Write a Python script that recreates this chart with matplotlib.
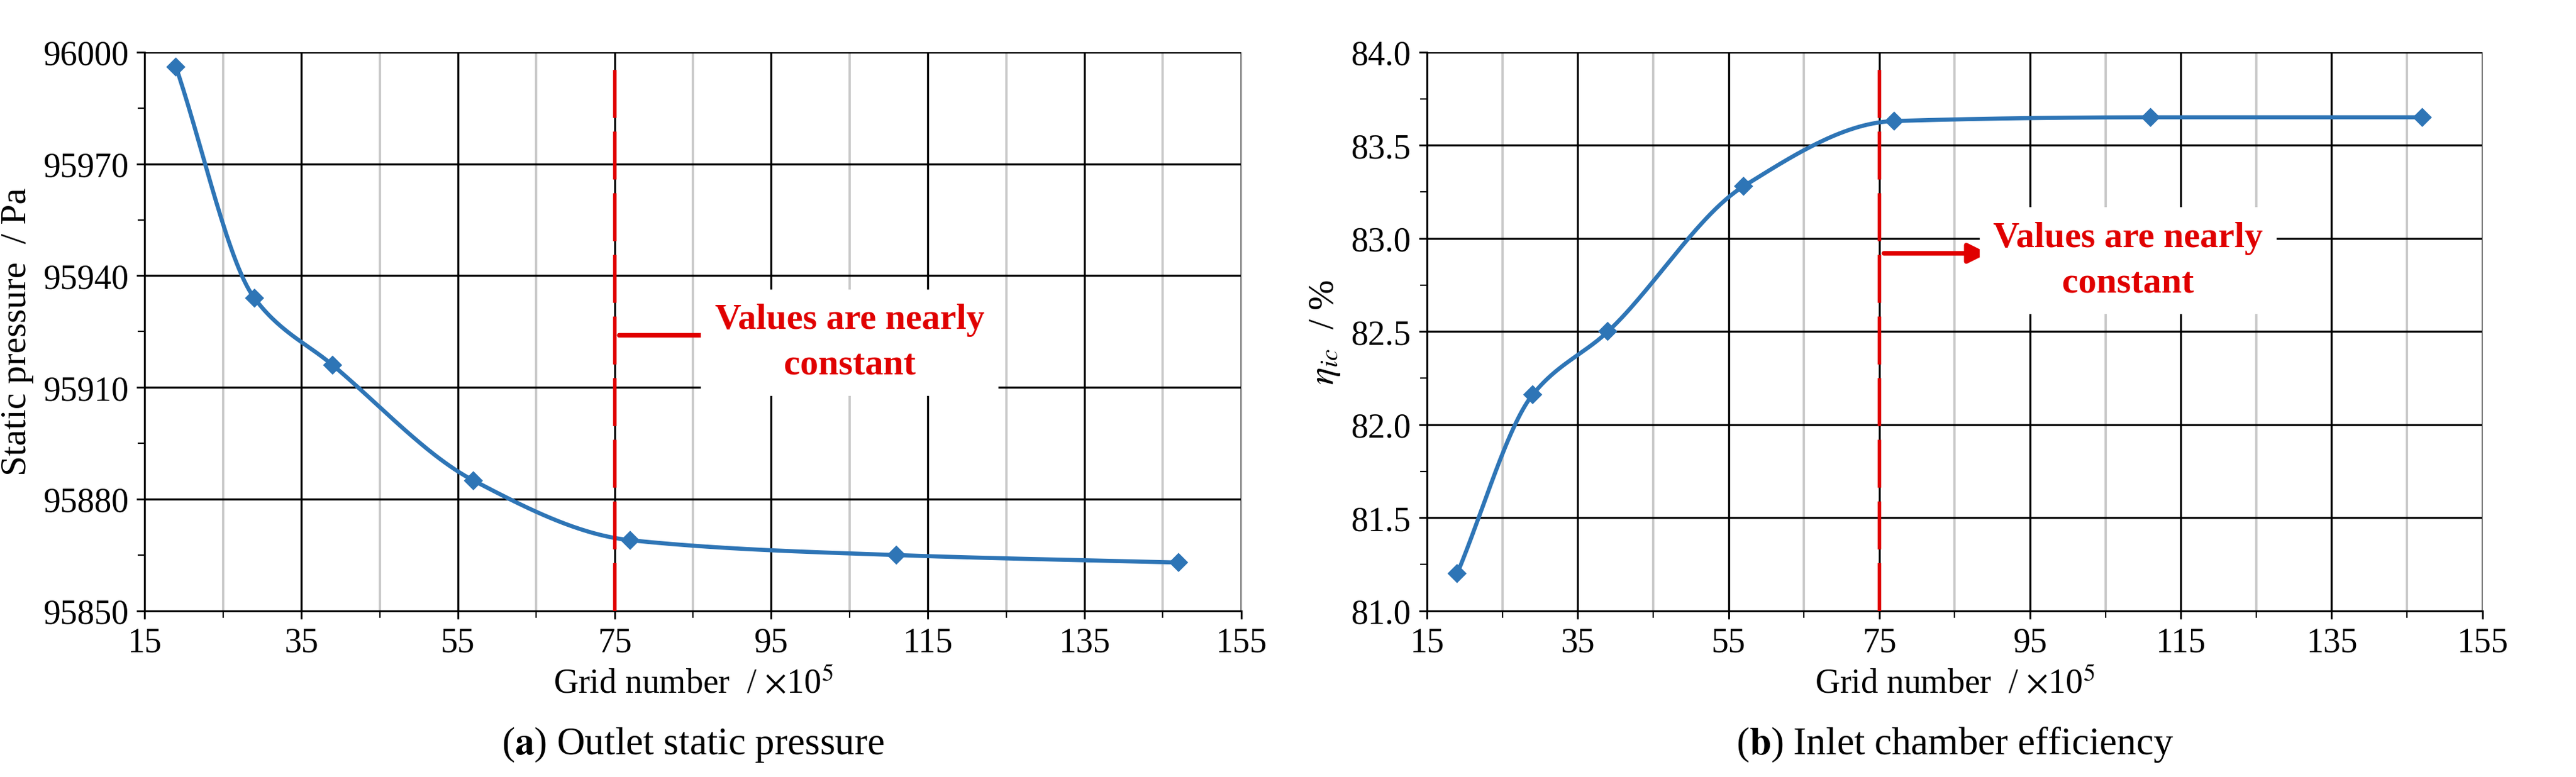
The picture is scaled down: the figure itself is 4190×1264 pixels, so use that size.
import numpy as np
import matplotlib.pyplot as plt
from matplotlib.ticker import MultipleLocator, FixedLocator

plt.rcParams['font.family'] = ['Liberation Serif', 'DejaVu Serif']
plt.rcParams['mathtext.fontset'] = 'stix'

grid_n = [19, 29, 39, 57, 77, 111, 147]
pressure = [95996, 95934, 95916, 95885, 95869, 95865, 95863]
efficiency = [81.20, 82.16, 82.50, 83.28, 83.63, 83.65, 83.65]
xticks = [15, 35, 55, 75, 95, 115, 135, 155]
xminor = [25, 45, 65, 85, 105, 125, 145]


def pchip(x, y, xs):
    x = np.asarray(x, float); y = np.asarray(y, float)
    h = np.diff(x); d = np.diff(y) / h
    m = np.zeros_like(y)
    for k in range(1, len(x) - 1):
        if d[k - 1] * d[k] > 0:
            w1 = 2 * h[k] + h[k - 1]; w2 = h[k] + 2 * h[k - 1]
            m[k] = (w1 + w2) / (w1 / d[k - 1] + w2 / d[k])
    m[0] = d[0]; m[-1] = d[-1]
    i = np.clip(np.searchsorted(x, xs) - 1, 0, len(x) - 2)
    t = (xs - x[i]) / h[i]
    h00 = 2*t**3 - 3*t**2 + 1; h10 = t**3 - 2*t**2 + t
    h01 = -2*t**3 + 3*t**2; h11 = t**3 - t**2
    return h00*y[i] + h10*h[i]*m[i] + h01*y[i+1] + h11*h[i]*m[i+1]


fig = plt.figure(figsize=(15.67, 4.73), dpi=267.4)
ax1 = fig.add_axes([88/1567, 1 - 372/473, 667/1567, 340/473])
ax2 = fig.add_axes([868/1567, 1 - 372/473, 642/1567, 340/473])

blue = '#2e75b6'
xs = np.linspace(grid_n[0], grid_n[-1], 400)

for ax, y, ylim, ystep, ylab in [
        (ax1, pressure, (95850, 96000), 30, 'Static pressure  / Pa'),
        (ax2, efficiency, (81.0, 84.0), 0.5, r'$\eta_{ic}$  / %')]:
    ax.set_xlim(15, 155)
    ax.set_ylim(*ylim)
    ax.set_xticks(xticks)
    ax.xaxis.set_minor_locator(FixedLocator(xminor))
    ax.yaxis.set_major_locator(MultipleLocator(ystep))
    ax.yaxis.set_minor_locator(MultipleLocator(ystep / 2))
    ax.grid(which='minor', axis='x', color='#c8c8c8', lw=1)
    ax.grid(which='major', color='black', lw=0.9)
    ax.set_axisbelow(True)
    ax.plot(xs, pchip(grid_n, y, xs), color=blue, lw=1.8, zorder=3)
    ax.plot(grid_n, y, 'D', color=blue, ms=5, zorder=4)
    ax.axvline(75, ymax=0.97, color='#e00000', lw=1.5, dashes=(14, 4), zorder=3)
    for s in ['top', 'right']:
        ax.spines[s].set_visible(False)
    ax.tick_params(labelsize=15, direction='out')
    ax.tick_params(which='minor', direction='out', length=3)
    ax.set_xlabel(r'Grid number  / $\times$10$^5$', fontsize=15)
    ax.set_ylabel(ylab, fontsize=16)
    if ax is ax1:
        ax.set_yticklabels([f'{v:.0f}' for v in ax.get_yticks()])
    else:
        ax.set_yticklabels([f'{v:.1f}' for v in ax.get_yticks()])

ax1.annotate('', xy=(90, 95924), xytext=(75, 95924),
             arrowprops=dict(arrowstyle='-|>', color='#e00000', lw=2, mutation_scale=18), zorder=5)
ax1.text(105, 95922, 'Values are nearly\nconstant', color='#e00000', fontsize=16,
         fontweight='bold', ha='center', va='center', linespacing=1.5,
         bbox=dict(fc='white', ec='none', pad=6), zorder=5)
ax2.annotate('', xy=(90, 82.92), xytext=(75, 82.92),
             arrowprops=dict(arrowstyle='-|>', color='#e00000', lw=2, mutation_scale=18), zorder=5)
ax2.text(108, 82.88, 'Values are nearly\nconstant', color='#e00000', fontsize=16,
         fontweight='bold', ha='center', va='center', linespacing=1.5,
         bbox=dict(fc='white', ec='none', pad=6), zorder=5)

fig.text((88 + 755) / 2 / 1567, 0.03, r'($\mathbf{a}$) Outlet static pressure', ha='center', fontsize=17)
fig.text((868 + 1510) / 2 / 1567, 0.03, r'($\mathbf{b}$) Inlet chamber efficiency', ha='center', fontsize=17)

fig.savefig('out.png', dpi=267.4)
